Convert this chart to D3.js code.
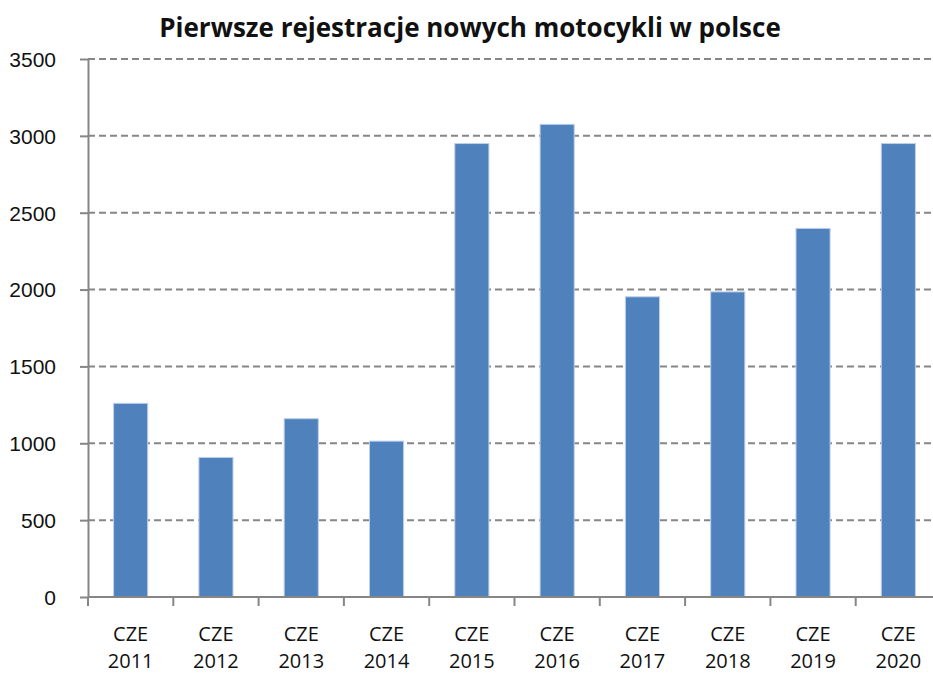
<!DOCTYPE html>
<html>
<head>
<meta charset="utf-8">
<script src="https://cdn.jsdelivr.net/npm/d3@7"></script>
<style>
  body { margin: 0; background: #fff; }
  svg { display: block; font-family: "Open Sans", "Noto Sans", sans-serif; }
  .grid line { stroke: #868686; stroke-width: 2; stroke-dasharray: 7,4; }
  .axis path, .axis line { stroke: #868686; stroke-width: 2; }
  .axis text { font-size: 21px; fill: #111; }
  .axis text.lab { font-size: 20px; }
</style>
</head>
<body>
<svg width="933" height="675"></svg>
<script>
var countries = ["CZE", "CZE", "CZE", "CZE", "CZE", "CZE", "CZE", "CZE", "CZE", "CZE"];
var years = ["2011", "2012", "2013", "2014", "2015", "2016", "2017", "2018", "2019", "2020"];
var values = [1260, 908, 1160, 1014, 2950, 3075, 1953, 1985, 2398, 2950];
var yTicks = [0, 500, 1000, 1500, 2000, 2500, 3000, 3500];

var svg = d3.select("svg"),
    margin = {top: 59, left: 88, bottom: 78},
    height = +svg.attr("height") - margin.top - margin.bottom,
    width = 853;

var g = svg.append("g").attr("transform", "translate(" + margin.left + "," + margin.top + ")");

var x = d3.scaleBand().domain(years).range([0, width]).paddingInner(0.6).paddingOuter(0.3);
var y = d3.scaleLinear().domain([0, 3500]).range([height, 0]);

// gridlines
g.append("g").attr("class", "grid")
  .selectAll("line")
  .data(yTicks.slice(1))
  .enter().append("line")
    .attr("x1", 0).attr("x2", 933 - margin.left)
    .attr("y1", y).attr("y2", y);

// bars
g.selectAll(".bar")
  .data(values)
  .enter().append("rect")
    .attr("class", "bar")
    .attr("x", function(d, i) { return x(years[i]); })
    .attr("width", x.bandwidth())
    .attr("y", function(d) { return y(d); })
    .attr("height", function(d) { return height - y(d); })
    .attr("fill", "#4f81bd")
    .attr("stroke", "#bcd0ea")
    .attr("stroke-width", 1);

// y axis
var yAxis = g.append("g").attr("class", "axis")
  .call(d3.axisLeft(y).tickValues(yTicks).tickFormat(d3.format("d"))
    .tickSize(8).tickSizeOuter(0).tickPadding(24));
yAxis.selectAll("text").attr("dy", "0.35em");

// x axis
var xEdges = d3.range(years.length + 1).map(function(i) { return i * x.step(); });
var xAxis = g.append("g").attr("class", "axis")
  .attr("transform", "translate(0," + height + ")");
xAxis.append("line").attr("x1", 0).attr("x2", width);
xAxis.selectAll(".tk")
  .data(xEdges)
  .enter().append("line")
    .attr("class", "tk")
    .attr("x1", function(d) { return d; }).attr("x2", function(d) { return d; })
    .attr("y1", 0).attr("y2", 9);

var lab = xAxis.selectAll(".lab")
  .data(years)
  .enter().append("text")
    .attr("class", "lab")
    .attr("text-anchor", "middle")
    .attr("x", function(d) { return x(d) + x.bandwidth() / 2; });
lab.append("tspan").attr("x", function(d) { return x(d) + x.bandwidth() / 2; })
  .attr("y", 44).text(function(d, i) { return countries[i]; });
lab.append("tspan").attr("x", function(d) { return x(d) + x.bandwidth() / 2; })
  .attr("y", 71).text(function(d) { return d; });

// title
svg.append("text")
  .attr("x", 470).attr("y", 37)
  .attr("text-anchor", "middle")
  .style("font-size", "26px").style("font-weight", "bold").style("fill", "#111")
  .text("Pierwsze rejestracje nowych motocykli w polsce");
</script>
</body>
</html>
